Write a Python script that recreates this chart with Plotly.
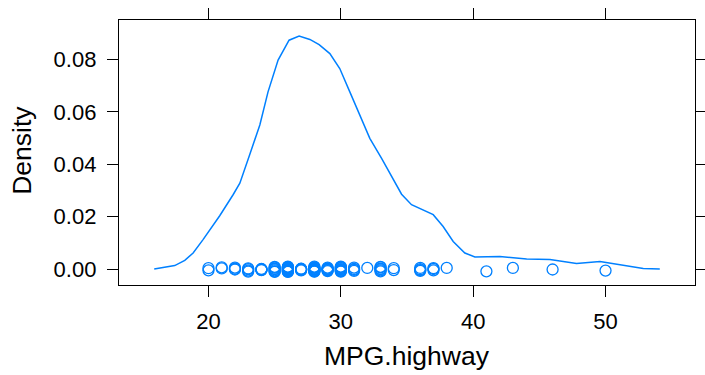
import plotly.graph_objects as go

# Density curve
dens_x = [15.9, 17.45, 18.21, 18.84, 19.59, 20.85, 21.86, 22.37, 23.12, 23.88,
          24.5, 25.26, 26.09, 26.85, 27.66, 28.36, 29.17, 29.92, 30.68, 31.44,
          32.19, 33.08, 33.83, 34.59, 35.34, 36.1, 36.98, 37.73, 38.49, 39.37,
          40.13, 42.02, 44.04, 45.8, 47.81, 49.58, 51.34, 52.85, 54.1]
dens_y = [0.0001, 0.0014, 0.0034, 0.0062, 0.0113, 0.0204, 0.0284, 0.0328, 0.0437, 0.0550,
          0.0676, 0.0797, 0.0873, 0.0889, 0.0876, 0.0856, 0.0822, 0.0765, 0.0676, 0.0585,
          0.0499, 0.0423, 0.0353, 0.0286, 0.0246, 0.0229, 0.0208, 0.0163, 0.0106, 0.0062,
          0.0047, 0.0049, 0.0039, 0.0037, 0.0022, 0.0030, 0.0014, 0.0003, 0.0001]

# Observations (MPG.highway) and their vertical jitter as seen in the picture
obs_x = ([20] * 2 + [21] * 2 + [22] * 3 + [23] * 4 + [24] * 5 + [25] * 7 + [26] * 13 +
         [27] * 5 + [28] * 11 + [29] * 7 + [30] * 9 + [31] * 4 + [32] + [33] * 6 +
         [34] * 2 + [36] * 4 + [37] * 3 + [38] + [41] + [43] + [46] + [50])
obs_y = [0.0004, -0.0004,
         0.0007, 0.0003,
         0.0006, 0.0002, -0.0001,
         0.0003, -0.0005, -0.0009, 0.0000,
         -0.0002, 0.0001, -0.0003, 0.0000, -0.0001,
         0.0006, -0.0008, 0.0002, -0.0004, 0.0009, -0.0010, 0.0000,
         0.0008, -0.0009, 0.0003, -0.0005, 0.0010, -0.0002, 0.0005, -0.0007, 0.0001, -0.0010, 0.0006, -0.0003, 0.0000,
         0.0001, -0.0004, 0.0000, -0.0002, 0.0002,
         0.0007, -0.0008, 0.0002, -0.0005, 0.0010, -0.0002, 0.0005, -0.0009, 0.0001, -0.0006, 0.0000,
         0.0006, -0.0007, 0.0001, -0.0004, 0.0003, -0.0002, 0.0000,
         0.0008, -0.0009, 0.0003, -0.0005, 0.0010, -0.0002, 0.0005, -0.0007, 0.0000,
         0.0006, -0.0006, 0.0001, -0.0002,
         0.0005,
         0.0007, -0.0008, 0.0002, -0.0004, 0.0009, 0.0000,
         0.0004, -0.0003,
         0.0005, -0.0006, 0.0000, -0.0003,
         0.0004, -0.0004, 0.0001,
         0.0005,
         -0.0008,
         0.0005,
         -0.0001,
         -0.0005]

x_ticks = [20, 30, 40, 50]
y_ticks = [0.00, 0.02, 0.04, 0.06, 0.08]
y_ticklabels = ["0.00", "0.02", "0.04", "0.06", "0.08"]
x_title = "MPG.highway"
y_title = "Density"

blue = "#0080ff"
FONT = "Liberation Sans, Arial, sans-serif"

fig = go.Figure()
fig.add_trace(go.Scatter(x=dens_x, y=dens_y, mode="lines",
                         line=dict(color=blue, width=1.5), hoverinfo="skip"))
fig.add_trace(go.Scatter(x=obs_x, y=obs_y, mode="markers",
                         marker=dict(symbol="circle-open", size=11, color=blue,
                                     line=dict(width=1.3, color=blue))))

axis_common = dict(showline=True, linecolor="black", linewidth=1.3, mirror="ticks",
                   ticks="outside", ticklen=11, tickwidth=1.3, tickcolor="black",
                   showgrid=False, zeroline=False, automargin=False,
                   tickfont=dict(family=FONT, size=22, color="black"))

fig.update_xaxes(range=[13.24, 56.76], tickvals=x_ticks, ticklabelstandoff=5,
                 **axis_common)
fig.update_yaxes(range=[-0.006, 0.0950], tickvals=y_ticks, ticktext=y_ticklabels,
                 ticklabelstandoff=6, **axis_common)

fig.add_annotation(text=x_title, xref="paper", yref="paper", x=0.5, y=-0.2688,
                   xanchor="center", yanchor="middle", showarrow=False,
                   font=dict(family=FONT, size=26.5, color="black"))
fig.add_annotation(text=y_title, xref="paper", yref="paper", x=-0.169, y=0.509,
                   xanchor="center", yanchor="middle", textangle=-90, showarrow=False,
                   font=dict(family=FONT, size=26.5, color="black"))

fig.update_layout(width=705, height=375, showlegend=False,
                  margin=dict(l=119.3, r=10, t=19.5, b=89.5, autoexpand=False),
                  plot_bgcolor="white", paper_bgcolor="white")

# remove the browser's default 8px body margin so the figure fills the window
fig.write_html("out.html", config={"displayModeBar": False},
               post_script="document.body.style.margin='0';document.body.style.overflow='hidden';")
